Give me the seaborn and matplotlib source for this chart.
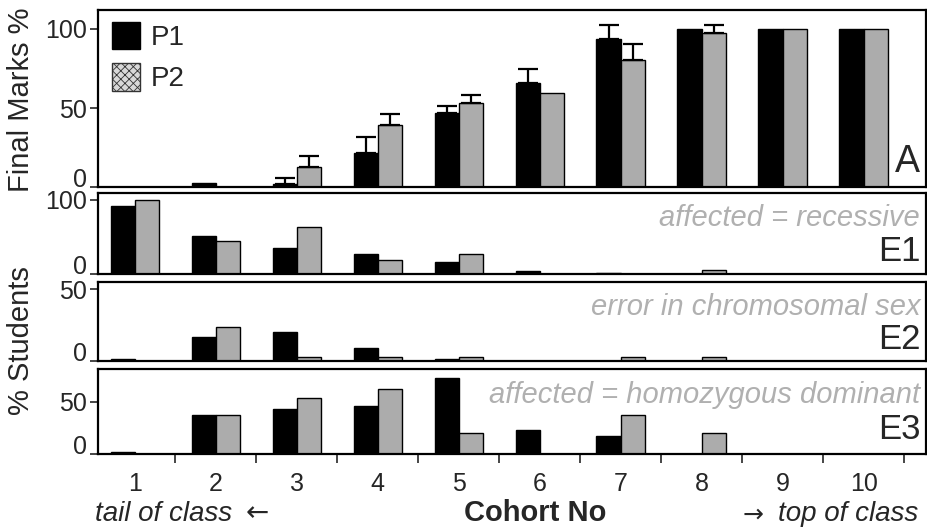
import numpy as np
import pandas as pd
import seaborn as sns
import matplotlib
matplotlib.use("Agg")
import matplotlib.pyplot as plt
from matplotlib.patches import Patch

sns.set_style("ticks")
plt.rcParams['font.family'] = ['Liberation Sans', 'DejaVu Sans']
plt.rcParams['hatch.linewidth'] = 0.6

cohorts = [1, 2, 3, 4, 5, 6, 7, 8, 9, 10]
groups = ["P1", "P2"]

# Final marks (panel A) with upper error bars
a_p1 = [0, 2.6, 1.7, 21.5, 46.8, 65.7, 93.8, 100, 100, 100]
a_p1_err = [0, 0, 3.9, 10.1, 4.6, 8.9, 8.7, 0, 0, 0]
a_p2 = [0, 0, 12.6, 39.4, 53.3, 59.5, 80.5, 97.5, 100, 100]
a_p2_err = [0, 0, 6.8, 7.0, 4.9, 0, 10.3, 5.0, 0, 0]

# % students per error type
e1_p1 = [91.7, 51, 35.5, 27.2, 16, 3.7, 1.5, 0, 0, 0]
e1_p2 = [100, 44.7, 62.7, 19.4, 27.2, 0, 0, 5, 0, 0]
e2_p1 = [1.4, 16.4, 20, 9, 1.4, 0, 0, 0, 0, 0]
e2_p2 = [0, 23.7, 3, 3, 3, 0, 3, 3, 0, 0]
e3_p1 = [1.6, 37, 42.7, 45.8, 72, 22.6, 17.2, 0, 0, 0]
e3_p2 = [0, 37, 52.9, 61.8, 20.3, 0, 37.6, 20.3, 0, 0]

panels = [
    ("A", "", a_p1, a_p2, (0, 112), [0, 50, 100]),
    ("E1", "affected = recessive", e1_p1, e1_p2, (0, 109), [0, 100]),
    ("E2", "error in chromosomal sex", e2_p1, e2_p2, (0, 55), [0, 50]),
    ("E3", "affected = homozygous dominant", e3_p1, e3_p2, (0, 81), [0, 50]),
]
errors = [a_p1_err, a_p2_err]

# axes boxes in figure fractions: (bottom, height)
boxes = [(0.6478, 0.3333), (0.4840, 0.1525), (0.3202, 0.1488), (0.1450, 0.1601)]
label_y = [0.086, 0.16, 0.148, 0.176]
note_y = [0, 0.59, 0.58, 0.60]

palette = {"P1": "black", "P2": "#acacac"}

fig = plt.figure(figsize=(9.27, 5.31), dpi=100)
axes = []
for i, (name, note, p1, p2, ylim, yticks) in enumerate(panels):
    ax = fig.add_axes([0.1057, boxes[i][0], 0.8932, boxes[i][1]])
    df = pd.DataFrame({
        "cohort": cohorts * 2,
        "group": ["P1"] * 10 + ["P2"] * 10,
        "value": p1 + p2,
    })
    sns.barplot(data=df, x="cohort", y="value", hue="group", order=cohorts,
                hue_order=groups, palette=palette, width=0.6, saturation=1,
                edgecolor="black", linewidth=1, errorbar=None, legend=False, ax=ax)
    if name == "A":
        for cont, err in zip(ax.containers, errors):
            xs = [b.get_x() + b.get_width() / 2 for b, e in zip(cont, err) if e > 0]
            hs = [b.get_height() for b, e in zip(cont, err) if e > 0]
            es = [e for e in err if e > 0]
            ax.errorbar(xs, hs, yerr=[np.zeros(len(es)), es], fmt="none",
                        ecolor="black", elinewidth=1.6, capsize=7, capthick=1.6)
        handles = [Patch(facecolor="black", edgecolor="black", label="P1"),
                   Patch(facecolor="#d8d8d8", edgecolor="#333333", hatch="xxxx", label="P2")]
        ax.legend(handles=handles, loc="upper left", bbox_to_anchor=(0.017, 0.935),
                  frameon=False, fontsize=20, handlelength=1.0, handleheight=1.15,
                  handletextpad=0.4, labelspacing=0.45, borderpad=0, borderaxespad=0)
        ax.text(0.993, label_y[i], name, transform=ax.transAxes, ha="right",
                va="baseline", fontsize=27)
    else:
        ax.text(0.993, label_y[i], name, transform=ax.transAxes, ha="right",
                va="baseline", fontsize=25)
        ax.text(0.993, note_y[i], note, transform=ax.transAxes, ha="right",
                va="baseline", fontsize=21, style="italic", color="#b0b0b0")
    ax.set_xlim(-0.457, 9.77)
    ax.set_ylim(*ylim)
    ax.set_yticks(yticks)
    ax.set_xlabel("")
    ax.set_ylabel("")
    ax.tick_params(axis="y", labelsize=18, length=6, width=1.2, pad=2, direction="out")
    # the "0" label sits on its tick rather than centred on it
    ax.yaxis.get_major_ticks()[0].label1.set_verticalalignment("baseline")
    for sp in ax.spines.values():
        sp.set_linewidth(1.6)
        sp.set_color("black")
    axes.append(ax)

for ax in axes[:-1]:
    ax.set_xticks([])

bottom = axes[-1]
bottom.set_xticks(range(len(cohorts)))
bottom.set_xticklabels([str(c) for c in cohorts])
bottom.set_xticks(np.arange(len(cohorts)) + 0.5, minor=True)
bottom.tick_params(axis="x", which="major", length=0, labelsize=18, pad=13)
bottom.tick_params(axis="x", which="minor", length=6.5, width=1.2, direction="out")

fig.text(0.023, 0.812, "Final Marks %", rotation=90, ha="center", va="center", fontsize=21)
fig.text(0.023, 0.358, "% Students", rotation=90, ha="center", va="center", fontsize=21)

tail = fig.text(0.102, 0.019, "tail of class", ha="left", va="baseline",
                fontsize=20, style="italic")
bottom.annotate("\u2190", xy=(1, 0), xycoords=tail, xytext=(10, 0),
                textcoords="offset points", ha="left", va="bottom",
                fontsize=20, family="DejaVu Sans", annotation_clip=False)
fig.text(0.577, 0.019, "Cohort No", ha="center", va="baseline",
         fontsize=21, weight="bold")
top = fig.text(0.991, 0.019, "top of class", ha="right", va="baseline",
               fontsize=20, style="italic")
bottom.annotate("\u2192", xy=(0, 0), xycoords=top, xytext=(-11, 0),
                textcoords="offset points", ha="right", va="bottom",
                fontsize=18, family="DejaVu Sans", annotation_clip=False)

fig.savefig("out.png", dpi=100)
